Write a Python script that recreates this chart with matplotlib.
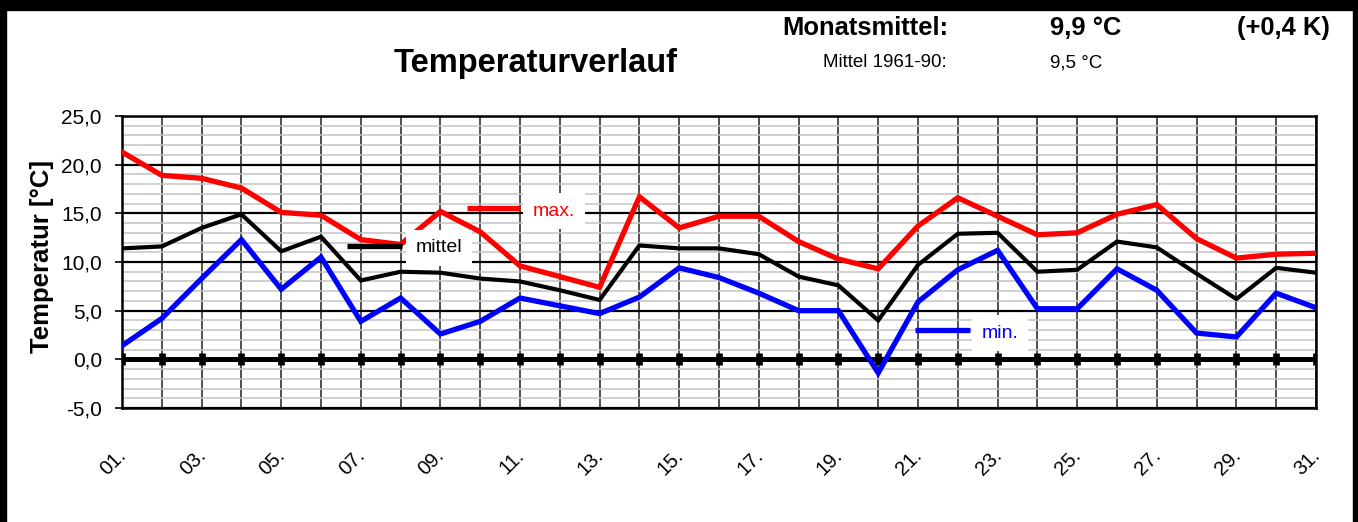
import numpy as np
import matplotlib
matplotlib.use("Agg")
import matplotlib.pyplot as plt
from matplotlib.ticker import MultipleLocator
from matplotlib.lines import Line2D
from matplotlib.patches import Rectangle
from matplotlib.transforms import ScaledTranslation

plt.rcParams['font.family'] = ['Liberation Sans', 'DejaVu Sans']

# Tageswerte
tage = np.arange(1, 32)
t_max = [21.3, 18.9, 18.6, 17.6, 15.1, 14.8, 12.3, 11.8, 15.2, 13.1,
         9.6, 8.5, 7.4, 16.7, 13.5, 14.7, 14.7, 12.1, 10.3, 9.3,
         13.7, 16.6, 14.7, 12.8, 13.0, 14.9, 15.9, 12.4, 10.4, 10.8, 10.9]
t_mittel = [11.4, 11.6, 13.5, 14.9, 11.1, 12.6, 8.1, 9.0, 8.9, 8.3,
            8.0, 7.1, 6.1, 11.7, 11.4, 11.4, 10.8, 8.5, 7.6, 4.0,
            9.7, 12.9, 13.0, 9.0, 9.2, 12.1, 11.5, 8.8, 6.2, 9.4, 8.9]
t_min = [1.4, 4.2, 8.3, 12.3, 7.2, 10.5, 3.9, 6.3, 2.6, 3.9,
         6.3, 5.5, 4.7, 6.4, 9.4, 8.4, 6.8, 5.0, 5.0, -1.4,
         5.9, 9.2, 11.2, 5.2, 5.2, 9.3, 7.1, 2.7, 2.3, 6.8, 5.3]
y_ticks = [-5, 0, 5, 10, 15, 20, 25]
x_labels = ['%02d.' % d for d in tage[::2]]

W, H = 1358, 522
fig = plt.figure(figsize=(W / 100, H / 100), dpi=100)
ax = fig.add_axes([122 / W, 1 - 408 / H, (1316 - 122) / W, (408 - 116) / H])

def fx(x):
    return x / W

def fy(y):
    return 1 - y / H

ax.plot(tage, t_max, color='#ff0000', lw=3.8, solid_joinstyle='miter', zorder=3)
ax.plot(tage, t_mittel, color='black', lw=3.0, solid_joinstyle='miter', zorder=3)
ax.plot(tage, t_min, color='#0000ff', lw=3.8, solid_joinstyle='miter', zorder=3)

# Nulllinie mit Markierungen
ax.axhline(0, color='black', lw=3.6, zorder=2)
ax.plot(tage, np.zeros(len(tage)), ls='none', marker='|', ms=8.5, mew=4.8,
        color='black', zorder=2)

ax.set_xlim(1, 31)
ax.set_ylim(-5, 25)
ax.set_yticks(y_ticks)
ax.set_yticklabels([('%.1f' % v).replace('.', ',') for v in y_ticks], fontsize=15)
ax.yaxis.set_minor_locator(MultipleLocator(1))
ax.set_xticks(tage[::2])
ax.set_xticks(tage, minor=True)
ax.set_xticklabels(x_labels, rotation=45, ha='right', va='baseline',
                   rotation_mode='anchor', fontsize=14.5)
ax.tick_params(axis='x', which='both', length=0, pad=34.5)
ax.tick_params(axis='y', which='major', length=5, width=1.2, pad=9.4)
ax.tick_params(axis='y', which='minor', length=0)
verschiebung = ScaledTranslation(5 / 100, 0, fig.dpi_scale_trans)
for lbl in ax.get_xticklabels():
    lbl.set_transform(lbl.get_transform() + verschiebung)

ax.set_axisbelow(True)
ax.grid(axis='y', which='minor', color='#c4c4c4', lw=1.1)
ax.grid(axis='y', which='major', color='black', lw=1.6)
ax.grid(axis='x', which='both', color='#202020', lw=1.1)
for s in ax.spines.values():
    s.set_linewidth(1.8)
    s.set_color('black')

# Beschriftungen der Reihen
eintraege = [('max.', '#ff0000', 467, 520, 208, 554, 211),
             ('mittel', 'black', 347, 402, 246, 439, 248),
             ('min.', '#0000ff', 915, 970, 330, 1000, 333)]
for name, farbe, x0, x1, yl, xt, yt in eintraege:
    fig.add_artist(Line2D([fx(x0), fx(x1)], [fy(yl), fy(yl)], color=farbe,
                          lw=3.8, solid_capstyle='butt', zorder=5))
    fig.text(fx(xt), fy(yt), name, color=farbe, fontsize=14, ha='center', va='center',
             zorder=6, bbox=dict(facecolor='white', edgecolor='none', pad=7))

fig.text(fx(536), fy(72), 'Temperaturverlauf', fontsize=23.5, fontweight='bold',
         ha='center', va='baseline')
fig.text(fx(948), fy(35), 'Monatsmittel:', fontsize=18.4, fontweight='bold',
         ha='right', va='baseline')
fig.text(fx(1050), fy(35), '9,9 °C', fontsize=18.4, fontweight='bold',
         ha='left', va='baseline')
fig.text(fx(1330), fy(35), '(+0,4 K)', fontsize=18.4, fontweight='bold',
         ha='right', va='baseline')
fig.text(fx(947), fy(67), 'Mittel 1961-90:', fontsize=13.5, ha='right', va='baseline')
fig.text(fx(1050), fy(67), '9,5 °C', fontsize=13.5, ha='left', va='baseline')
fig.text(fx(42), fy(256), 'Temperatur [°C]', fontsize=18.5, fontweight='bold',
         rotation=90, ha='center', va='center')

# Rahmen
for x, y, w, h in [(0, 0, 6, H), (0, 0, W, 10), (W - 5, 0, 5, H)]:
    fig.add_artist(Rectangle((fx(x), fy(y + h)), w / W, h / H, color='black',
                             transform=fig.transFigure, zorder=10))

fig.savefig('out.png', dpi=100)
